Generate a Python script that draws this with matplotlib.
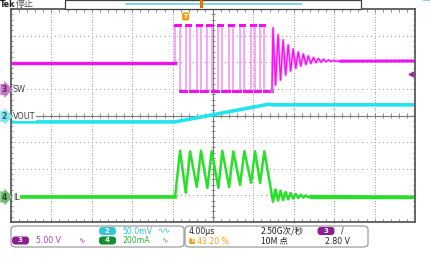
import matplotlib
matplotlib.use('Agg')
import numpy as np
import matplotlib.pyplot as plt
from matplotlib.patches import FancyBboxPatch, Rectangle

W, H = 431, 258
CJK = ['Noto Sans CJK SC', 'DejaVu Sans']
plt.rcParams['font.family'] = ['DejaVu Sans']

# time base: 4 us/div, trigger at 43.2 % of the screen
t_div = 4.0
trig_pos = 0.432
t_min = -10 * t_div * trig_pos
t_max = t_min + 10 * t_div

# channel scales (per div) and ground markers (div from centre)
sw_scale, sw_pos = 5.0, 1.0        # ch3, V
vout_scale, vout_pos = 50.0, 0.0   # ch2, mV
il_scale, il_pos = 200.0, -3.0     # ch4, mA
trig_level = 2.80                  # V on ch3

# SW node edges (us from trigger)
sw_rise = [-1.04, 0.02, 1.11, 2.16, 3.25, 4.31, 5.40, 6.49, 7.38]
sw_fall = [-0.54, 0.45, 1.53, 2.59, 3.64, 4.73, 5.82, 6.88, 7.80]
sw_idle, sw_high, sw_low, sw_final = 4.92, 12.0, -0.4, 5.24
ring_start = 8.56
ring_t = [8.66, 8.91, 9.16, 9.41, 9.66, 9.91, 10.16, 10.41, 10.66, 10.91,
          11.16, 11.41, 11.66, 11.91, 12.16, 12.41, 12.66, 12.91, 13.16, 13.41,
          13.66, 13.91, 14.16, 14.41, 14.66, 14.91, 15.16, 15.41]
sw_ring = [11.45, 0.73, 10.13, 1.67, 9.19, 2.61, 8.25, 3.36, 7.50, 3.91,
           6.94, 4.29, 6.56, 4.59, 6.18, 4.77, 5.90, 4.93, 5.71, 5.02,
           5.56, 5.09, 5.43, 5.15, 5.34, 5.19, 5.24, 5.21]

# VOUT (mV, relative to offset)
vout_t = [-17.18, -1.04, 8.17, 8.6, 22.72]
vout_mv = [-12, -12, 21, 20, 20]

# inductor current (mA)
il_start = -16.4
il_idle = -10
il_peak = [335, 330, 335, 332, 335, 330, 333, 330, 332]
il_valley = [20, 63, 56, 56, 63, 78, 93, 93]
il_ring_t = [8.66, 8.91, 9.16, 9.41, 9.66, 9.91, 10.16, 10.41, 10.66, 10.91,
             11.16, 11.41, 11.66, 11.91, 12.16, 12.41]
il_ring = [-48, 45, -40, 35, -35, 25, -30, 18, -25, 10, -20, 5, -17, 0, -14, -5]

MAG, PINK, CYAN, GREEN = '#F010F0', '#F7A0F7', '#20E4F0', '#28E028'
GRID = '#8c8c8c'

fig = plt.figure(figsize=(W / 100, H / 100), dpi=100)
ax = fig.add_axes([11 / W, 1 - 222 / H, 404 / W, 213 / H])
ax.set_xlim(t_min, t_max)
ax.set_ylim(-4, 4)
ax.set_xticks([])
ax.set_yticks([])
for s in ax.spines.values():
    s.set_color('#5a5a5a')
    s.set_linewidth(1.3)

# graticule
t_c = t_min + 5 * t_div
xs_minor = np.arange(t_min, t_max + 1e-6, t_div / 5)
ys_minor = np.arange(-4, 4.001, 0.2)
xs_dots = np.arange(t_min, t_max + 1e-6, t_div / 10)
ys_dots = np.arange(-4, 4.001, 0.1)
for k in range(1, 10):
    if k == 5:
        continue
    ax.plot(np.full(len(ys_dots), t_min + k * t_div), ys_dots, 's', ms=0.55, mew=0,
            color=GRID)
for j in range(-3, 4):
    if j == 0:
        continue
    ax.plot(xs_dots, np.full(len(xs_dots), j), 's', ms=0.55, mew=0, color=GRID)
ax.axhline(0, color='#7a7a7a', lw=0.8)
ax.axvline(t_c, color='#7a7a7a', lw=0.8)
ax.vlines(xs_minor, -0.09, 0.09, color='#7a7a7a', lw=0.6)
ax.hlines(ys_minor, t_c - 0.22, t_c + 0.22, color='#7a7a7a', lw=0.6)
ax.vlines(xs_minor, 3.9, 4, color='#7a7a7a', lw=0.6)
ax.vlines(xs_minor, -4, -3.9, color='#7a7a7a', lw=0.6)
ax.hlines(ys_minor, t_min, t_min + 0.22, color='#7a7a7a', lw=0.6)
ax.hlines(ys_minor, t_max - 0.22, t_max, color='#7a7a7a', lw=0.6)

# VOUT
ax.plot(vout_t, [vout_pos + v / vout_scale for v in vout_mv], color=CYAN, lw=2.6,
        solid_capstyle='butt')

# IL
il_t = [il_start, sw_rise[0]]
il_v = [il_idle, il_idle]
for i, f in enumerate(sw_fall):
    il_t.append(f)
    il_v.append(il_peak[i])
    if i + 1 < len(sw_rise):
        il_t.append(sw_rise[i + 1])
        il_v.append(il_valley[i])
il_t += il_ring_t + [t_max]
il_v += il_ring + [il_idle]
ax.plot(il_t, [il_pos + v / il_scale for v in il_v], color=GREEN, lw=1.8)
ax.plot([il_start, sw_rise[0]], [il_pos + il_idle / il_scale] * 2, color=GREEN, lw=2.6)
ax.plot([il_ring_t[-1], t_max], [il_pos + il_idle / il_scale] * 2, color=GREEN, lw=2.4)


# SW
def sw_y(v):
    return sw_pos + v / sw_scale


sw_t = [t_min, sw_rise[0]]
sw_v = [sw_idle, sw_idle]
for i, (r, f) in enumerate(zip(sw_rise, sw_fall)):
    nxt = sw_rise[i + 1] if i + 1 < len(sw_rise) else ring_start
    sw_t += [r, f, f, nxt]
    sw_v += [sw_high, sw_high, sw_low, sw_low]
ax.plot(sw_t, [sw_y(v) for v in sw_v], color=PINK, lw=1.3)
for i, (r, f) in enumerate(zip(sw_rise, sw_fall)):
    nxt = sw_rise[i + 1] if i + 1 < len(sw_rise) else ring_start
    ax.plot([r, f], [sw_y(sw_high)] * 2, color=MAG, lw=2.2)
    ax.plot([f, nxt], [sw_y(sw_low)] * 2, color=MAG, lw=2.2)
ax.plot([t_min, sw_rise[0]], [sw_y(sw_idle)] * 2, color=MAG, lw=2.4)
ring_x = [ring_start] + ring_t
ring_y = [sw_y(sw_low)] + [sw_y(v) for v in sw_ring]
ax.plot(ring_x, ring_y, color=PINK, lw=2.0)
ax.plot(ring_x, ring_y, color=MAG, lw=0.9)
ax.plot([ring_t[-1], t_max], [sw_y(sw_ring[-1]), sw_y(sw_final)], color=MAG, lw=2.2)

# trigger markers
ax.plot(t_max - 0.35, sw_y(trig_level), marker='<', color='#B020B0', ms=3.5, clip_on=False)
ax.text(0, 3.72, 'T', color='white', fontsize=4.5, fontweight='bold', ha='center', va='center',
        bbox=dict(boxstyle='round,pad=0.25', fc='#F0A020', ec='none'), clip_on=False)


def fx(x):
    return x / W


def fy(y):
    return 1 - y / H


# channel tags on the left
def tag(y, num, fc, tc, name):
    fig.text(fx(1.5), fy(y), num, color=tc, fontsize=5.5, fontweight='bold',
             va='center', ha='left',
             bbox=dict(boxstyle='rarrow,pad=0.15', fc=fc, ec='none'))
    fig.text(fx(13), fy(y), name, color='#404040', fontsize=5.8, va='center', ha='left',
             bbox=dict(boxstyle='square,pad=0.05', fc='white', ec='none'))


tag(89.5, '3', '#C478C4', '#6a1a6a', 'SW')
tag(116.5, '2', '#86E2EC', '#1f6674', 'VOUT')
tag(197, '4', '#74BA74', '#1f4f1f', 'IL')

# top status line
fig.text(fx(0), fy(4.5), 'Tek', fontsize=5.8, fontweight='bold', va='center', color='#202020')
fig.text(fx(16), fy(4.5), '停止', fontsize=6.5, va='center', color='#505050', family=CJK)
fig.add_artist(Rectangle((fx(65), fy(8.5)), fx(361) - fx(65), fy(0) - fy(8.5),
                         transform=fig.transFigure, fc='white', ec='#404040', lw=0.9))
fig.add_artist(Rectangle((fx(125), fy(5)), fx(302) - fx(125), fy(3.5) - fy(5),
                         transform=fig.transFigure, fc='#7ADCE0', ec='none'))
fig.add_artist(Rectangle((fx(200), fy(8)), fx(203) - fx(200), fy(0) - fy(8),
                         transform=fig.transFigure, fc='#E07010', ec='none'))
fig.add_artist(Rectangle((fx(423), fy(1.2)), fx(431) - fx(423), fy(0) - fy(1.2),
                         transform=fig.transFigure, fc='#7ADCE0', ec='none'))

# bottom readout boxes
for x0, x1 in [(11, 184), (185, 368)]:
    fig.add_artist(FancyBboxPatch((fx(x0), fy(247)), fx(x1) - fx(x0), fy(226) - fy(247),
                                  boxstyle='round,pad=0,rounding_size=0.012',
                                  transform=fig.transFigure, fc='white', ec='#909090', lw=0.8))


def badge(x, y, num, fc):
    fig.text(fx(x), fy(y), num, color='white', fontsize=5, fontweight='bold',
             ha='center', va='center',
             bbox=dict(boxstyle='round,pad=0.15,rounding_size=0.45', fc=fc, ec='none'))


FS = 5.6
badge(107.5, 231, '  2  ', '#30C8D8')
fig.text(fx(122), fy(231), '50.0mV', color='#30C0D0', fontsize=FS, va='center')
fig.text(fx(157), fy(231), '∿∿', color='#30C0D0', fontsize=FS, va='center')
badge(20.5, 240.5, '  3  ', '#8A2090')
fig.text(fx(36), fy(240.5), '5.00 V', color='#A040A8', fontsize=FS, va='center')
fig.text(fx(78), fy(240.5), '∿', color='#A040A8', fontsize=FS, va='center')
badge(107.5, 240.5, '  4  ', '#109030')
fig.text(fx(122), fy(240.5), '200mA', color='#30B040', fontsize=FS, va='center')
fig.text(fx(161), fy(240.5), '∿', color='#30B040', fontsize=FS, va='center')

fig.text(fx(189), fy(231), '4.00µs', color='#202020', fontsize=FS, va='center')
fig.text(fx(190), fy(241), 'T', color='white', fontsize=4.5, fontweight='bold', va='center',
         bbox=dict(boxstyle='round,pad=0.1', fc='#F0A020', ec='none'))
fig.text(fx(197), fy(241), '43.20 %', color='#F0A020', fontsize=FS, va='center')
fig.text(fx(261), fy(231), '2.50G次/秒', color='#202020', fontsize=6.2, va='center', family=CJK)
fig.text(fx(261), fy(241), '10M 点', color='#202020', fontsize=6.2, va='center', family=CJK)
badge(326, 231, '  3  ', '#8A2090')
fig.text(fx(341), fy(231), '/', color='#202020', fontsize=FS, va='center')
fig.text(fx(325), fy(241), '2.80 V', color='#202020', fontsize=FS, va='center')

fig.savefig('out.png', dpi=100)
